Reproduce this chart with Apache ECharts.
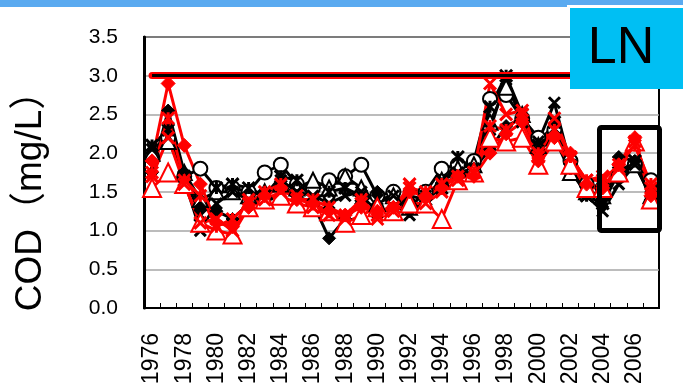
<!DOCTYPE html>
<html><head><meta charset="utf-8">
<script src="https://cdn.jsdelivr.net/npm/echarts@6/dist/echarts.min.js"></script>
<style>html,body{margin:0;padding:0;background:#fff}#c{width:683px;height:388px}</style>
</head><body><div id="c"></div>
<script>
const years = ['1976','1977','1978','1979','1980','1981','1982','1983','1984','1985','1986','1987','1988','1989','1990','1991','1992','1993','1994','1995','1996','1997','1998','1999','2000','2001','2002','2003','2004','2005','2006','2007'];
const yMin = 0, yMax = 3.5, yStep = 0.5;
const STANDARD = 3.0;
const yTitle = 'COD（mg/L）';
const siteLabel = 'LN';

const blackDiamond = [1.75,2.55,1.75,1.3,1.25,1.15,1.35,1.45,1.6,1.45,1.35,0.9,1.15,1.35,1.5,1.3,1.25,1.4,1.6,1.7,1.8,2.05,2.35,2.45,2.0,2.25,1.85,1.55,1.4,1.95,1.9,1.4];
const blackCircle = [1.95,2.2,1.7,1.8,1.55,1.55,1.5,1.75,1.85,1.6,1.55,1.65,1.7,1.85,1.45,1.5,1.3,1.5,1.8,1.85,1.9,2.7,2.75,2.45,2.2,2.3,1.9,1.6,1.55,1.7,1.85,1.65];
const blackTriangle = [2.0,2.15,1.75,1.4,1.5,1.5,1.45,1.5,1.6,1.55,1.65,1.55,1.7,1.55,1.35,1.45,1.3,1.35,1.65,1.8,1.85,2.4,2.85,2.5,2.1,2.2,1.75,1.5,1.45,1.75,1.85,1.45];
const blackX = [2.05,2.2,1.65,1.0,1.35,1.5,1.4,1.45,1.65,1.5,1.45,1.35,1.45,1.5,1.4,1.45,1.2,1.45,1.65,1.75,1.8,2.3,2.95,2.4,2.15,2.65,1.85,1.45,1.25,1.6,1.85,1.45];
const blackStar = [2.1,2.3,1.7,1.2,1.55,1.6,1.55,1.45,1.7,1.65,1.4,1.5,1.55,1.45,1.25,1.3,1.45,1.4,1.55,1.95,1.75,2.6,3.0,2.5,2.1,2.4,1.8,1.45,1.35,1.75,1.9,1.5];
const redDiamond = [1.9,2.9,2.1,1.6,1.1,1.05,1.3,1.45,1.55,1.4,1.35,1.25,1.2,1.3,1.25,1.3,1.5,1.45,1.55,1.7,1.7,2.0,2.25,2.4,1.9,2.2,2.0,1.6,1.55,1.85,2.2,1.45];
const redX = [1.7,2.2,1.6,1.1,1.15,1.0,1.4,1.4,1.5,1.45,1.3,1.2,1.15,1.35,1.15,1.25,1.6,1.35,1.5,1.65,1.75,2.9,2.5,2.55,1.95,2.45,1.95,1.65,1.7,1.8,2.15,1.55];
const redTriangle = [1.55,1.75,1.6,1.1,1.0,0.95,1.3,1.4,1.45,1.35,1.3,1.25,1.1,1.2,1.3,1.25,1.35,1.35,1.15,1.65,1.75,2.2,2.15,2.2,1.85,2.15,1.85,1.55,1.55,1.75,2.15,1.4];
const redStar = [1.75,2.45,1.65,1.45,1.05,1.15,1.35,1.5,1.6,1.4,1.4,1.3,1.2,1.4,1.2,1.3,1.55,1.5,1.6,1.7,1.75,2.35,2.3,2.5,2.0,2.3,1.95,1.65,1.65,1.85,2.1,1.6];

const X_PATH = 'path://M0 0L10 10M10 0L0 10';
const STAR_PATH = 'path://M0 0L10 10M10 0L0 10M5 0L5 10';

function mk(name, data, color, symbol, size, mode) {
  let itemStyle;
  if (mode === 'path') itemStyle = {color: 'rgba(0,0,0,0)', borderColor: color, borderWidth: 3};
  else if (mode === 'empty') itemStyle = {color: color, borderColor: color, borderWidth: 2.5};
  else itemStyle = {color: color, borderColor: color, borderWidth: 1};
  return {
    name, type: 'line', data, symbol, symbolSize: size, showSymbol: true, showAllSymbol: true,
    lineStyle: {color: color, width: 3},
    itemStyle, emphasis: {disabled: true}, animation: false, z: 3
  };
}

const series = [
  mk('b-circle', blackCircle, '#000', 'emptyCircle', 14, 'empty'),
  mk('b-triangle', blackTriangle, '#000', 'emptyTriangle', 15, 'empty'),
  mk('b-x', blackX, '#000', X_PATH, 11, 'path'),
  mk('b-star', blackStar, '#000', STAR_PATH, 12, 'path'),
  mk('b-diamond', blackDiamond, '#000', 'diamond', 13, 'fill'),
  mk('r-triangle', redTriangle, '#ff0000', 'emptyTriangle', 18, 'empty'),
  mk('r-star', redStar, '#ff0000', STAR_PATH, 12, 'path'),
  mk('r-x', redX, '#ff0000', X_PATH, 12, 'path'),
  mk('r-diamond', redDiamond, '#ff0000', 'diamond', 14, 'fill')
];
series[0].markLine = {
  symbol: 'none', silent: true, label: {show: false}, animation: false,
  lineStyle: {color: '#ff0000', width: 7, type: 'solid', cap: 'round'},
  data: [[{coord: [years[0], STANDARD]}, {coord: [years[years.length - 1], STANDARD]}]]
};
series[1].markLine = {
  symbol: 'none', silent: true, label: {show: false}, animation: false,
  lineStyle: {color: '#000', width: 3, type: 'solid'},
  data: [[{coord: [years[0], STANDARD]}, {coord: [years[years.length - 1], STANDARD]}]]
};

const font = "'Liberation Sans', Arial, 'Noto Sans CJK JP', sans-serif";
const chart = echarts.init(document.getElementById('c'), null, {renderer: 'canvas'});
chart.setOption({
  animation: false,
  backgroundColor: '#fff',
  grid: {left: 144, right: 24, top: 37, bottom: 80, show: true, borderColor: '#000', borderWidth: 2, backgroundColor: 'transparent'},
  xAxis: {
    type: 'category', data: years, boundaryGap: true,
    axisLine: {lineStyle: {color: '#000', width: 2}},
    axisTick: {show: true, inside: true, length: 5, interval: 0, lineStyle: {color: '#000', width: 1}},
    axisLabel: {interval: 1, rotate: 90, margin: 25, fontSize: 23, color: '#000', fontFamily: font},
    splitLine: {show: false}
  },
  yAxis: {
    type: 'value', min: yMin, max: yMax, interval: yStep,
    axisLine: {show: true, lineStyle: {color: '#000', width: 3}},
    axisTick: {show: false},
    axisLabel: {margin: 26, fontSize: 21, color: '#000', fontFamily: font, formatter: v => v.toFixed(1)},
    splitLine: {show: true, lineStyle: {color: '#a6a6a6', width: 1.5}}
  },
  series,
  graphic: [
    {type: 'rect', z: 100, shape: {x: 0, y: 0, width: 683, height: 7}, style: {fill: '#5aaaf0'}},
    {type: 'rect', z: 101, shape: {x: 567, y: 5, width: 116, height: 4}, style: {fill: '#ffffff'}},
    {type: 'rect', z: 102, shape: {x: 570, y: 8, width: 113, height: 81}, style: {fill: '#00bff3'}},
    {type: 'text', z: 103, x: 621, y: 49, style: {text: siteLabel, fill: '#000', font: "52px 'Liberation Sans', Arial, sans-serif", textAlign: 'center', textVerticalAlign: 'middle'}},
    {type: 'rect', z: 100, shape: {x: 599.5, y: 127.5, width: 60, height: 103, r: 2}, style: {fill: 'none', stroke: '#000', lineWidth: 5}},
    {type: 'text', z: 100, x: 31, y: 192, rotation: Math.PI / 2, style: {text: yTitle, fill: '#000', font: "37px 'Liberation Sans', 'Noto Sans CJK JP', sans-serif", textAlign: 'center', textVerticalAlign: 'middle'}}
  ]
});
</script></body></html>
